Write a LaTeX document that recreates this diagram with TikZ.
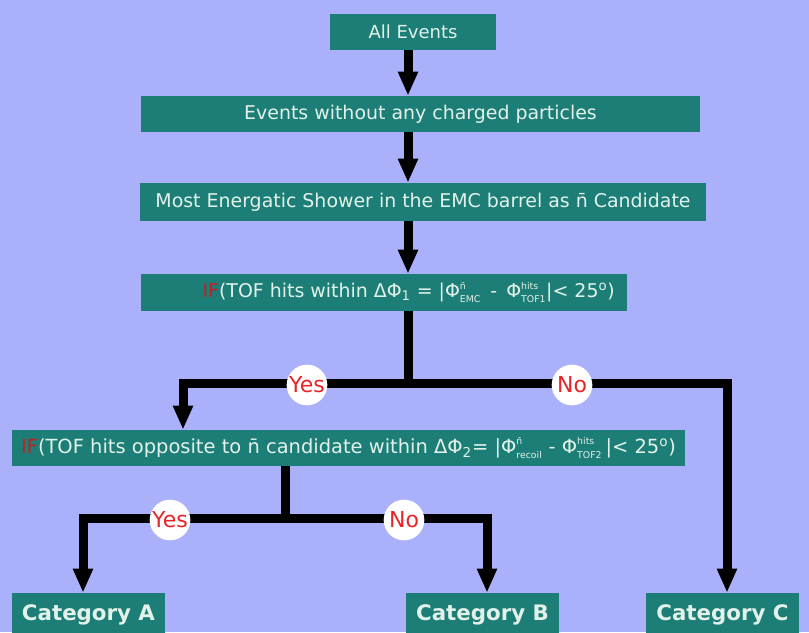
\documentclass[tikz,border=0pt]{standalone}
\usepackage{fontspec}
\setmainfont{DejaVu Sans}
\usepackage{amsmath}
\usepackage{color}
\usetikzlibrary{arrows.meta}
\definecolor{bglav}{RGB}{170,177,250}
\definecolor{boxteal}{RGB}{28,126,118}
\definecolor{boxtext}{RGB}{226,242,234}
\definecolor{ansred}{RGB}{232,36,40}
\newcommand{\ifred}{\textcolor{ansred!85!black}{IF}}
\newcommand{\phisub}[2]{$\mbox{Φ}^{\mbox{\scriptsize #1}}_{\mbox{\scriptsize #2}}$}

\begin{document}
\begin{tikzpicture}[x=0.75pt,y=-0.75pt,
  box/.style={fill=boxteal,text=boxtext,inner sep=0pt,font=\fontsize{14.2}{16}\selectfont},
  catbox/.style={box,font=\bfseries\fontsize{16}{18}\selectfont,minimum width=115pt,minimum height=33pt},
  flow/.style={black,line width=6.75pt,-{Triangle[length=18pt,width=14pt]}},
  flowline/.style={black,line width=6.75pt},
  answer/.style={circle,fill=white,text=ansred,inner sep=0pt,minimum size=30.5pt,font=\fontsize{16.5}{18}\selectfont}]
\fill[bglav] (0,0) rectangle (809,632);
\clip (0,0) rectangle (809,632);

% boxes
\node[box,minimum width=125pt,minimum height=27pt,font=\fontsize{13.5}{16}\selectfont] (all) at (413,32) {All Events};
\node[box,minimum width=419pt,minimum height=27pt] (nocharged) at (420.5,114) {Events without any charged particles};
\node[box,minimum width=424.5pt,minimum height=28.5pt] (shower) at (423,202) {Most Energatic Shower in the EMC barrel as n̄ Candidate};
\node[box,minimum width=365pt,minimum height=27.75pt] (tofone) at (384,292.5)
  {\hspace*{37pt}\ifred(TOF hits within ΔΦ\textsubscript{1} = |\phisub{n̄}{EMC} \,-\, \phisub{hits}{TOF1}|< 25\textsuperscript{o})};
\node[box,minimum width=505pt,minimum height=27pt,font=\fontsize{14.6}{16}\selectfont] (toftwo) at (348.5,448)
  {\ifred(TOF hits opposite to n̄ candidate within ΔΦ\textsubscript{2}= |\phisub{n̄}{recoil} - \phisub{hits}{TOF2}\,|< 25\textsuperscript{o})};
\node[catbox] (catA) at (88.5,615) {Category A};
\node[catbox] (catB) at (482.5,615) {Category B};
\node[catbox] (catC) at (722.5,615) {Category C};

% connectors
\coordinate (spine) at (408,0);
\coordinate (forkone) at (408,383);
\coordinate (forktwo) at (285,518);
\coordinate (dropyes) at (183,0);
\coordinate (dropno) at (727,0);
\coordinate (dropA) at (83,0);
\coordinate (dropB) at (487,0);
\draw[flow] (all.south -| spine) -- (nocharged.north -| spine);
\draw[flow] (nocharged.south -| spine) -- (shower.north -| spine);
\draw[flow] (shower.south -| spine) -- (tofone.north -| spine);
\draw[flowline] (tofone.south -| spine) -- (forkone);
\draw[flow] (forkone) -| (toftwo.north -| dropyes);
\draw[flow] (forkone) -| (catC.north -| dropno);
\draw[flowline] (toftwo.south -| forktwo) -- (forktwo);
\draw[flow] (forktwo) -| (catA.north -| dropA);
\draw[flow] (forktwo) -| (catB.north -| dropB);

% yes / no
\node[answer] (yesone) at (307,385) {Yes};
\node[answer] (noone) at (572,385) {No};
\node[answer] (yestwo) at (170,520) {Yes};
\node[answer] (notwo) at (404,520) {No};
\end{tikzpicture}
\end{document}
